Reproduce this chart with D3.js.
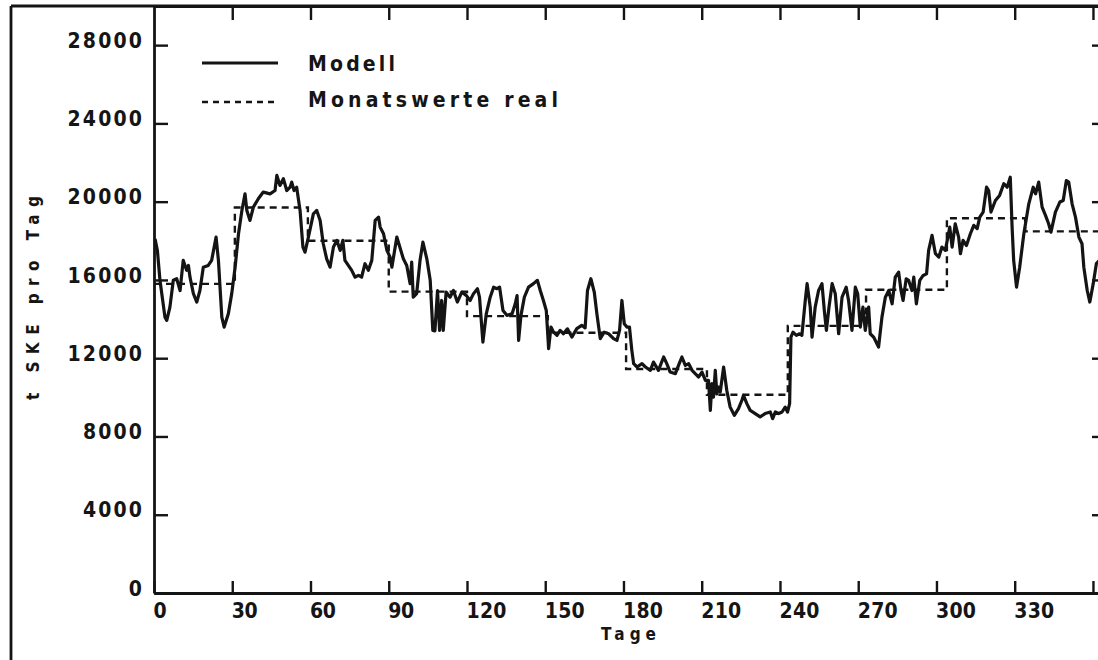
<!DOCTYPE html>
<html>
<head>
<meta charset="utf-8">
<script src="https://cdn.jsdelivr.net/npm/d3@7"></script>
<style>
  html, body { margin: 0; padding: 0; background: #fff; }
  svg { display: block; }
  text { font-family: "DejaVu Sans Condensed", "DejaVu Sans", sans-serif; font-weight: bold; fill: #151515; }
</style>
</head>
<body>
<svg id="chart" width="1098" height="660"></svg>
<script>
// ---- data ----
const modelDays = [0.4,1.3,2.3,4.2,4.9,6.1,7.4,8.7,10.0,11.2,12.5,13.2,13.8,15.1,16.4,17.6,18.9,20.8,22.1,23.8,24.7,26.0,26.9,28.5,29.8,31.1,32.4,33.7,34.9,35.6,36.8,38.1,40.0,41.9,44.5,46.4,47.1,48.3,49.6,50.9,52.2,52.8,53.7,54.7,56.0,57.1,57.9,59.2,61.1,62.4,63.7,64.9,66.2,67.5,68.8,70.1,71.4,72.4,73.2,74.5,75.8,77.1,78.4,79.6,80.9,82.2,83.5,84.8,86.1,86.7,88.0,89.3,90.5,91.2,93.1,95.6,96.9,98.2,98.8,99.4,100.7,102.0,103.1,104.6,105.9,106.9,107.7,108.7,109.5,110.3,110.9,112.0,113.5,114.8,116.3,118.0,119.7,121.2,122.5,124.0,124.8,126.1,127.4,128.9,130.2,131.5,132.5,133.8,135.3,137.3,138.5,139.2,139.8,140.7,142.0,143.6,145.5,147.0,148.1,149.3,150.4,151.3,152.2,153.2,154.5,155.7,157.0,158.5,160.2,162.1,164.0,165.3,166.2,167.5,168.8,169.8,171.1,172.6,174.3,176.2,177.5,178.5,179.4,180.3,181.3,182.3,183.2,183.9,185.2,187.1,188.4,190.3,191.5,193.4,195.4,196.6,197.9,199.9,201.1,202.4,203.7,205.0,206.3,207.5,208.8,210.1,211.4,212.6,213.3,213.9,214.5,215.2,215.8,216.4,217.1,218.4,219.6,220.9,222.5,224.1,225.4,226.0,227.3,228.6,230.5,232.4,234.3,236.3,237.2,238.2,239.5,240.8,242.0,242.9,243.7,244.2,245.0,246.3,247.5,248.4,249.7,250.4,251.6,252.3,253.5,254.8,256.1,257.0,257.8,258.8,260.0,261.2,262.5,263.8,265.4,266.3,267.6,268.9,269.8,270.8,271.8,272.7,274.0,274.6,275.9,277.8,279.1,280.4,281.7,283.0,284.2,285.5,286.4,287.2,288.4,289.3,290.6,291.3,292.3,293.6,294.9,296.2,297.0,298.3,299.6,300.9,302.1,303.4,305.1,306.0,307.2,308.5,309.2,310.2,311.5,313.0,314.3,315.6,316.6,317.9,319.2,320.0,320.9,322.6,324.2,325.8,327.1,328.3,329.0,329.6,330.7,331.9,333.5,335.4,337.1,338.0,339.2,340.5,341.8,343.0,343.9,345.6,347.3,348.6,349.8,350.7,352.0,353.3,354.6,355.8,356.5,357.8,358.8,360.1,361.3,362.5];
const modelValues = [18100,17500,15970,14100,13930,14610,15980,16060,15460,17000,16490,16740,16140,15300,14870,15460,16650,16740,17000,18190,17000,14100,13590,14270,15300,16650,18360,19550,20400,19550,19040,19720,20150,20490,20400,20570,21340,20830,21170,20570,20740,21000,20570,20740,19550,17680,17420,18190,19380,19550,19040,17850,17080,16650,17680,18020,17510,18020,17000,16740,16490,16140,16230,16140,16830,16490,17000,19040,19210,18700,18360,17510,17170,16650,18190,17080,16740,15810,16910,15120,15300,17000,17930,17080,15980,13420,13400,15460,13420,14950,13420,15380,15120,15460,14870,15380,15210,14950,15300,15550,15120,12820,14270,15120,15630,15550,15630,14440,14190,14270,14780,15200,12910,14190,15120,15630,15810,15980,15460,14950,14440,12490,13590,13330,13170,13420,13250,13500,13080,13510,13680,13550,15460,16060,15380,14270,13000,13330,13250,13000,12910,13420,14950,13760,13590,13590,12400,11720,11550,11720,11550,11380,11800,11380,12060,11720,11290,11210,11630,12060,11630,11720,11380,11210,11040,11290,10870,10870,9330,10700,10010,11380,10180,10520,10270,11550,10360,9500,9080,9420,9850,10100,9680,9330,9170,9000,9170,9250,8910,9250,9170,9250,9500,9250,9680,13080,13330,13170,13250,13170,14950,15810,14610,13080,14610,15460,15810,14440,13420,14610,15810,15290,13250,15120,15630,14950,13420,15630,15290,13590,14610,13420,14610,13250,13080,12570,14100,15120,15460,14780,16140,16400,15460,14950,16060,15980,15460,16140,14780,15980,16230,16310,17510,18280,17340,17170,17680,17510,18700,17680,18870,18190,17340,18020,17760,18360,18790,18620,19210,19470,20740,20570,19470,20060,20320,20920,20740,21250,18700,17000,15630,16650,18360,19890,20740,20400,21000,19720,19300,18870,18440,19470,19980,20060,21080,21000,19890,19210,18190,17850,16650,15460,14870,15810,16830,17000];

const monthStarts = [0,31,59,90,120,151,181,212,243,273,304,334,365];
const monthValues = [15800,19700,18000,15400,14150,13300,11450,10130,13650,15500,19150,18480,18480];

const xTicks = [0,30,60,90,120,150,180,210,240,270,300,330,360];
const xTickLabels = ["0","30","60","90","120","150","180","210","240","270","300","330",""];
const yTicks = [0,4000,8000,12000,16000,20000,24000,28000];

const legendLabels = ["Modell", "Monatswerte real"];
const xTitle = "Tage";
const yTitle = "t SKE pro Tag";

(function () {
// ---- layout ----
const svg = d3.select("#chart");
const ink = "#141414";
const pL = 154, pT = 6, pR = 1106, pB = 593;

const x = d3.scaleLinear().domain([0, 365]).range([pL, pR]);
const y = d3.scaleLinear().domain([0, 30000]).range([pB, pT]);

// outer frame (left + top)
svg.append("line").attr("x1", 11).attr("x2", 11).attr("y1", pT).attr("y2", 660)
  .attr("stroke", ink).attr("stroke-width", 2.8);
svg.append("line").attr("x1", 11).attr("x2", pR).attr("y1", pT).attr("y2", pT)
  .attr("stroke", ink).attr("stroke-width", 2.8);

// bottom axis
const gx = svg.append("g").attr("transform", `translate(0,${pB})`)
  .call(d3.axisBottom(x).tickValues(xTicks).tickSizeInner(-12).tickSizeOuter(0)
    .tickFormat((d, i) => xTickLabels[i]));
gx.selectAll("text")
  .attr("text-anchor", "start").attr("x", -1).attr("y", 25).attr("dy", 0)
  .style("font-size", "21px")
  .each(function(d, i) { const n = xTickLabels[i].length; if (n > 1) d3.select(this).attr("textLength", 14 * n - 2).attr("lengthAdjust", "spacing"); });

// top ticks
svg.append("g").attr("transform", `translate(0,${pT})`)
  .call(d3.axisTop(x).tickValues(xTicks.slice(1)).tickSizeInner(-14).tickSizeOuter(0).tickFormat(""));

// left axis
const gy = svg.append("g").attr("transform", `translate(${pL},0)`)
  .call(d3.axisLeft(y).tickValues(yTicks).tickSizeInner(-14).tickSizeOuter(0).tickFormat(d3.format("d")));
gy.selectAll("text")
  .attr("text-anchor", "end").attr("x", -12).attr("dy", "0.1em")
  .style("font-size", "21px")
  .each(function(d) { const n = String(d).length; if (n > 1) d3.select(this).attr("textLength", 15.5 * n - 3).attr("lengthAdjust", "spacing"); });

// right ticks
svg.append("g").attr("transform", `translate(${pR},0)`)
  .call(d3.axisRight(y).tickValues(yTicks.slice(1)).tickSizeInner(-14).tickSizeOuter(0).tickFormat(""));

svg.selectAll(".domain").attr("stroke", ink).attr("stroke-width", 2.8);
svg.selectAll(".tick line").attr("stroke", ink).attr("stroke-width", 2.4);
svg.selectAll(".tick text").attr("fill", ink);

// axis titles
svg.append("text").attr("x", 601).attr("y", 640).attr("textLength", 55).attr("lengthAdjust", "spacing")
  .style("font-size", "17px").text(xTitle);
svg.append("text").attr("transform", "translate(39,298) rotate(-90)")
  .attr("text-anchor", "middle").attr("textLength", 204).attr("lengthAdjust", "spacing")
  .style("font-size", "17px").text(yTitle);

// monthly real values (dashed step line)
const stepLine = d3.line().x((d, i) => x(monthStarts[i])).y(d => y(d)).curve(d3.curveStepAfter);
svg.append("path").datum(monthValues)
  .attr("d", stepLine).attr("fill", "none").attr("stroke", ink)
  .attr("stroke-width", 2.4).attr("stroke-dasharray", "7,5");

// model line
const modelLine = d3.line().x((d, i) => x(modelDays[i])).y(d => y(d));
svg.append("path").datum(modelValues)
  .attr("d", modelLine).attr("fill", "none").attr("stroke", ink)
  .attr("stroke-width", 3.2).attr("stroke-linejoin", "round");

// legend
const lg = svg.append("g");
lg.append("line").attr("x1", 202).attr("x2", 278).attr("y1", 63).attr("y2", 63)
  .attr("stroke", ink).attr("stroke-width", 2.8);
lg.append("line").attr("x1", 202).attr("x2", 278).attr("y1", 102).attr("y2", 102)
  .attr("stroke", ink).attr("stroke-width", 2.4).attr("stroke-dasharray", "6,5");
lg.append("text").attr("x", 308).attr("y", 71).attr("textLength", 87).attr("lengthAdjust", "spacing")
  .style("font-size", "21px").text(legendLabels[0]);
lg.append("text").attr("x", 308).attr("y", 107).attr("textLength", 250).attr("lengthAdjust", "spacing")
  .style("font-size", "21px").text(legendLabels[1]);
})();
</script>
</body>
</html>
